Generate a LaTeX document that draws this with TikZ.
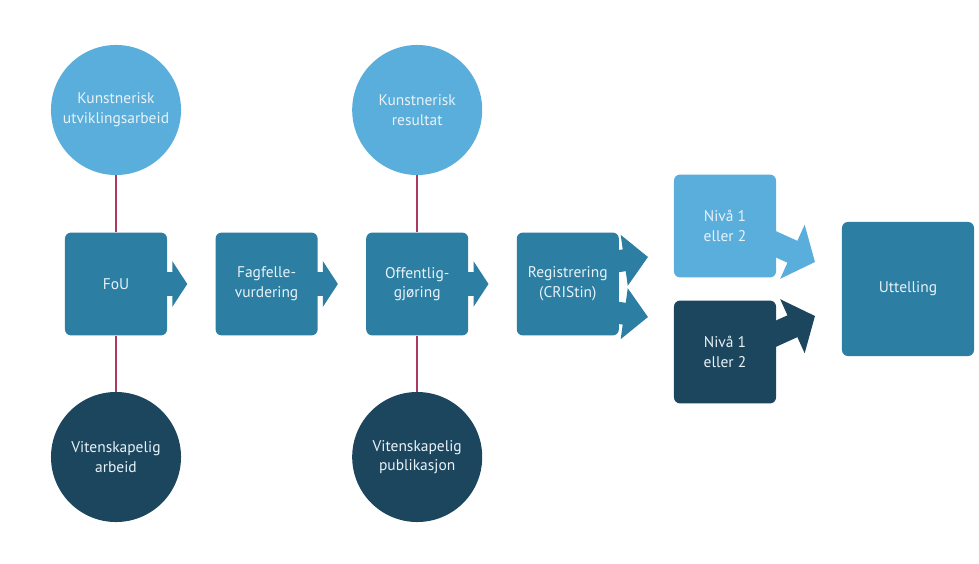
\documentclass[tikz,border=0pt]{standalone}
\usepackage{fontspec}
\setmainfont{PT Sans}
\usetikzlibrary{positioning,arrows.meta}

\definecolor{lightblue}{RGB}{90,174,220}
\definecolor{midblue}{RGB}{44,126,162}
\definecolor{darkblue}{RGB}{28,70,94}
\definecolor{linkred}{RGB}{168,58,100}
\definecolor{labeltext}{RGB}{232,242,247}

\tikzset{
  box/.style={rectangle, rounded corners=0.15cm, minimum width=2.55cm,
    minimum height=2.57cm, align=center, text=labeltext, inner sep=0pt,
    font=\fontsize{11}{14}\selectfont},
  disc/.style={circle, minimum size=3.25cm, align=center, text=labeltext,
    inner sep=0pt, font=\fontsize{11}{14}\selectfont},
  link/.style={draw=linkred, line width=1.3pt},
  barrow/.style={draw=#1, line width=0.575cm,
    -{Triangle[length=0.375cm, width=1.125cm]}},
  widearrow/.style={draw=#1, line width=0.55cm,
    -{Triangle[length=0.6cm, width=1.25cm]}},
  slantarrow/.style={draw=#1, line width=0.6cm,
    -{Triangle[length=0.62cm, width=1.45cm]}},
}

\begin{document}
\begin{tikzpicture}[x=0.025cm, y=-0.025cm]
  \useasboundingbox (0,0) rectangle (979,564);

  \node[box, fill=midblue] (a1) at (116,284) {FoU};
  \node[box, fill=midblue, right=1.2cm of a1] (a2) {Fagfelle-\\vurdering};
  \node[box, fill=midblue, right=1.2cm of a2] (a3) {Offentlig-\\gjøring};
  \node[box, fill=midblue, right=1.2cm of a3] (a4) {Registrering\\(CRIStin)};

  \node[disc, fill=lightblue, above=1.425cm of a1] (c1) {Kunstnerisk\\utviklingsarbeid};
  \node[disc, fill=darkblue, below=1.4cm of a1] (d1) {Vitenskapelig\\arbeid};
  \node[disc, fill=lightblue, above=1.425cm of a3] (c2) {Kunstnerisk\\resultat};
  \node[disc, fill=darkblue, below=1.4cm of a3] (d2) {Vitenskapelig\\publikasjon};

  \node[box, fill=lightblue] (n1) at (725,226) {Nivå 1\\eller 2};
  \node[box, fill=darkblue] (n2) at (725,352) {Nivå 1\\eller 2};
  \node[box, fill=midblue, minimum width=3.3cm, minimum height=3.35cm] (e1)
    at (908,289) {Uttelling};

  \draw[link] (c1) -- (a1);
  \draw[link] (a1) -- (d1);
  \draw[link] (c2) -- (a3);
  \draw[link] (a3) -- (d2);

  % tips of the block arrows
  \coordinate[right=0.5cm of a1.east] (p1);
  \coordinate[right=0.5cm of a2.east] (p2);
  \coordinate[right=0.5cm of a3.east] (p3);
  \coordinate (p4) at (648,257);
  \coordinate (q4) at (648,317);
  \coordinate (s4) at (612,262);
  \coordinate (t4) at (612,312);
  \coordinate (p5) at (815,262);
  \coordinate (q5) at (815,316);
  \coordinate (s5) at (762,238);
  \coordinate (t5) at (762,340);

  \draw[barrow=midblue] ([xshift=-2pt]a1.east) -- (p1);
  \draw[barrow=midblue] ([xshift=-2pt]a2.east) -- (p2);
  \draw[barrow=midblue] ([xshift=-2pt]a3.east) -- (p3);
  \draw[widearrow=midblue] (s4) -- (p4);
  \draw[widearrow=midblue] (t4) -- (q4);
  \draw[slantarrow=lightblue] (s5) -- (p5);
  \draw[slantarrow=darkblue] (t5) -- (q5);
\end{tikzpicture}
\end{document}
